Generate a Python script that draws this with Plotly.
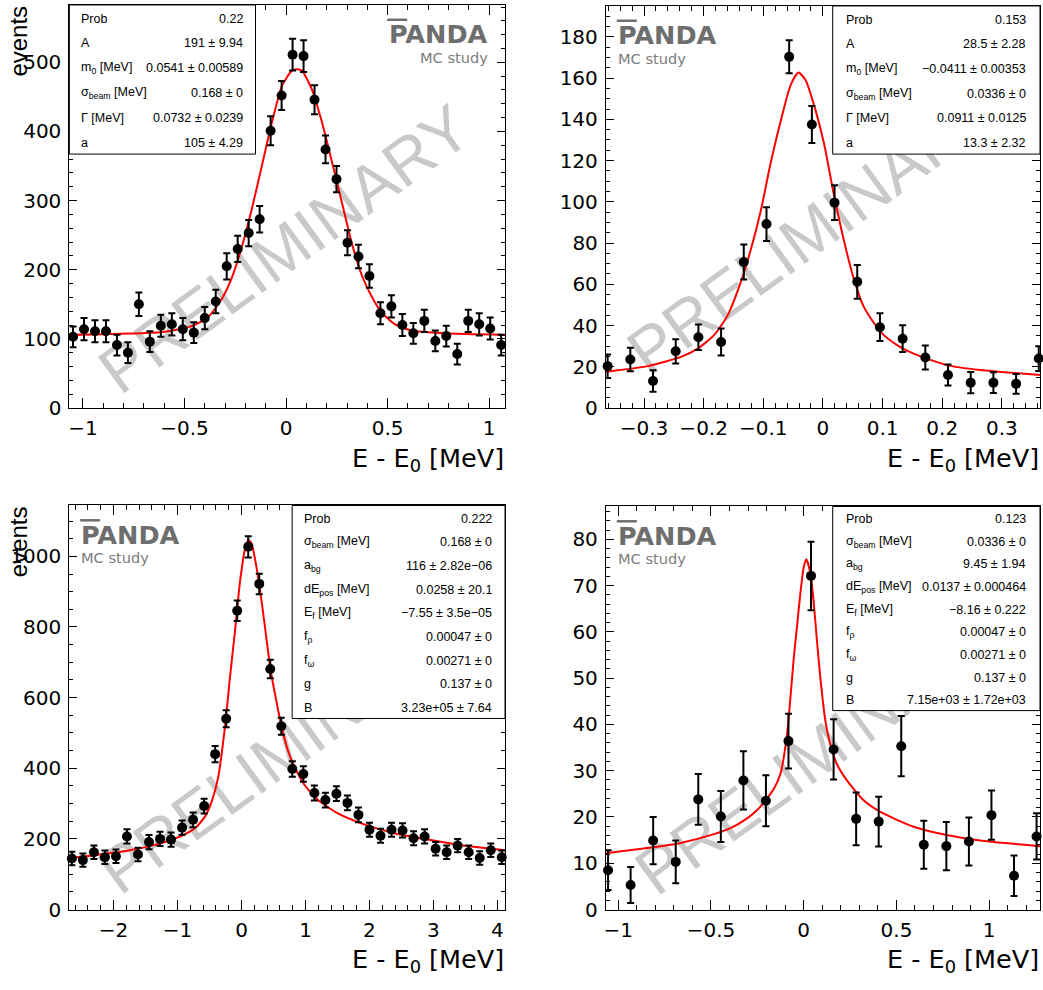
import numpy as np
import plotly.graph_objects as go

W, H = 1043, 990

# ---------------- data ----------------
# Panel 1 (top left)
p1_bin_first, p1_bin_width = -1.049, 0.05405
p1_counts = [103, 114, 111, 111, 91, 80, 150, 96, 119, 121, 114, 109, 130, 154, 205, 230, 253, 273, 401, 452,
             511, 509, 446, 374, 331, 239, 219, 191, 137, 147, 120, 108, 126, 97, 104, 78, 126, 121, 115, 91]
p1_err = [15, 16, 16, 16, 15, 15, 17, 15, 16, 16, 16, 15, 16, 17, 19, 19, 19, 19, 21, 21,
          23, 23, 21, 20, 19, 18, 17, 17, 16, 16, 16, 15, 16, 15, 15, 15, 16, 16, 16, 15]
p1_fit_x = [-1.062, -0.771, -0.608, -0.526, -0.444, -0.379, -0.314, -0.265, -0.216, -0.167, -0.118, -0.069,
            -0.020, 0.029, 0.054, 0.078, 0.127, 0.176, 0.225, 0.275, 0.324, 0.373, 0.422, 0.471, 0.536,
            0.618, 0.781, 1.078]
p1_fit_y = [105.7, 107.6, 110, 113.8, 121, 133, 159, 190, 235, 290, 352, 414, 466, 488, 490, 488, 461, 414,
            357, 297, 238, 192, 161, 138, 121, 112, 108, 105.7]
p1_stat_labels = ["Prob", "A", "m<sub>0</sub> [MeV]", "σ<sub>beam</sub> [MeV]", "Γ [MeV]", "a"]
p1_stat_values = ["0.22", "191 ± 9.94", "0.0541 ± 0.00589", "0.168 ± 0", "0.0732 ± 0.0239", "105 ± 4.29"]

# Panel 2 (top right)
p2_bin_first, p2_bin_width = -0.361, 0.03805
p2_counts = [20.3, 23.5, 13.1, 27.5, 34.3, 32.0, 70.8, 89.2, 170.3, 137.5, 99.6, 61.2, 39.2, 33.6, 24.5, 16.0,
             12.3, 12.3, 11.7, 24.0]
p2_err = [5.7, 5.7, 5.2, 5.9, 6.2, 6.5, 8.5, 8.2, 8.0, 9.0, 8.4, 8.2, 6.7, 6.5, 5.8, 5.1, 5.2, 5.0, 4.8, 6.0]
p2_fit_x = [-0.364, -0.294, -0.238, -0.210, -0.183, -0.160, -0.138, -0.121, -0.104, -0.088, -0.071, -0.054,
            -0.041, -0.029, -0.015, 0.002, 0.018, 0.035, 0.052, 0.069, 0.097, 0.125, 0.152, 0.208, 0.264, 0.365]
p2_fit_y = [17.6, 20.3, 24.8, 28.8, 35.2, 44.8, 60.8, 76.7, 95.9, 118.3, 139, 156.7, 162.7, 159, 147, 128, 104,
            81.5, 62.4, 48.8, 36.8, 30.4, 26.4, 20.8, 18.4, 16.0]
p2_stat_labels = ["Prob", "A", "m<sub>0</sub> [MeV]", "σ<sub>beam</sub> [MeV]", "Γ [MeV]", "a"]
p2_stat_values = ["0.153", "28.5 ± 2.28", "−0.0411 ± 0.00353", "0.0336 ± 0", "0.0911 ± 0.0125", "13.3 ± 2.32"]

# Panel 3 (bottom left)
p3_bin_first, p3_bin_width = -2.652, 0.1723
p3_counts = [144.5, 140, 162, 148, 151, 207, 156, 191, 200, 198, 232, 254, 293, 440, 540, 846, 1027, 922, 681,
             519, 398, 384, 330, 310, 328, 302, 268, 226, 209, 226, 224, 202, 207, 172, 162, 181, 162, 146,
             168, 148]
p3_err = [19, 19, 19, 19, 19, 20, 19, 20, 20, 20, 20, 21, 21, 23, 24, 29, 30, 29, 26, 24,
          22, 22, 21, 21, 21, 21, 21, 20, 20, 20, 20, 20, 20, 19, 19, 19, 19, 19, 19, 19]
p3_fit_x = [-2.694, -2.288, -1.768, -1.248, -0.936, -0.728, -0.572, -0.468, -0.364, -0.260, -0.182, -0.104,
            -0.026, 0.052, 0.104, 0.156, 0.208, 0.276, 0.364, 0.452, 0.546, 0.624, 0.728, 0.832, 0.988,
            1.196, 1.508, 1.872, 2.392, 2.912, 3.432, 4.119]
p3_fit_y = [146, 154, 167, 188, 209, 230, 263, 305, 375, 515, 655, 785, 925, 1018, 1046, 1037, 995, 922, 804,
            681, 589, 519, 449, 403, 352, 310, 272, 244, 216, 198, 182, 168]
p3_stat_labels = ["Prob", "σ<sub>beam</sub> [MeV]", "a<sub>bg</sub>", "dE<sub>pos</sub> [MeV]",
                  "E<sub>f</sub> [MeV]", "f<sub>ρ</sub>", "f<sub>ω</sub>", "g", "B"]
p3_stat_values = ["0.222", "0.168 ± 0", "116 ± 2.82e−06", "0.0258 ± 20.1", "−7.55 ± 3.5e−05",
                  "0.00047 ± 0", "0.00271 ± 0", "0.137 ± 0", "3.23e+05 ± 7.64"]

# Panel 4 (bottom right)
p4_bin_first, p4_bin_width = -1.055, 0.1216
p4_counts = [8.5, 5.3, 14.9, 10.3, 23.8, 20.1, 27.9, 23.5, 36.4, 72.1, 34.6, 19.6, 19.0, 35.3, 14.0, 13.7,
             14.7, 20.4, 7.3, 15.8]
p4_err = [4.3, 3.9, 5.1, 4.6, 5.5, 5.5, 6.3, 5.5, 5.9, 7.4, 6.5, 5.7, 5.4, 6.5, 5.2, 5.2, 5.2, 5.3, 4.4, 5.0]
p4_fit_x = [-1.067, -0.843, -0.664, -0.484, -0.395, -0.305, -0.251, -0.206, -0.161, -0.126, -0.090, -0.072,
            -0.054, -0.036, -0.018, 0.0, 0.014, 0.036, 0.054, 0.072, 0.090, 0.117, 0.143, 0.179, 0.233, 0.323,
            0.413, 0.592, 0.771, 0.951, 1.274]
p4_fit_y = [12.2, 13.3, 14.4, 16.3, 17.6, 19.7, 21.5, 23.6, 26.1, 29.3, 37.8, 45.7, 54.2, 61.3, 68.4, 74.0,
            75.7, 72.7, 66.3, 57.8, 49.9, 40.7, 35.7, 31.4, 27.9, 23.6, 21.1, 17.9, 16.1, 14.9, 13.7]
p4_stat_labels = p3_stat_labels
p4_stat_values = ["0.123", "0.0336 ± 0", "9.45 ± 1.94", "0.0137 ± 0.000464", "−8.16 ± 0.222",
                  "0.00047 ± 0", "0.00271 ± 0", "0.137 ± 0", "7.15e+03 ± 1.72e+03"]

x_title = "E - E<sub>0</sub> [MeV]"
y_title = "events"
logo_text = "<b>PANDA</b>"
logo_sub = "MC study"
watermark = "PRELIMINARY"

# ---------------- layout helpers ----------------
def fx(px):
    return px / W


def fy(py):
    return 1 - py / H


SANS = "Liberation Sans, Arial, Helvetica, sans-serif"
WIDE = "DejaVu Sans, Verdana, sans-serif"

panels = [
    dict(frame=(67.5, 5, 504, 413), xr=[-1.067, 1.078], yr=[0, 583], xd=0.5, xm=0.1, yd=100, ym=20,
         first=p1_bin_first, width=p1_bin_width, counts=p1_counts, err=p1_err, fx=p1_fit_x, fy=p1_fit_y,
         labels=p1_stat_labels, values=p1_stat_values, box=(67.5, 5, 254, 156), lab_x=77.3, val_x=243.3,
         logo_right=True, events=True),
    dict(frame=(605, 6, 1040, 413), xr=[-0.364, 0.364], yr=[0, 195], xd=0.1, xm=0.02, yd=20, ym=5,
         first=p2_bin_first, width=p2_bin_width, counts=p2_counts, err=p2_err, fx=p2_fit_x, fy=p2_fit_y,
         labels=p2_stat_labels, values=p2_stat_values, box=(832.3, 6, 1040, 156), lab_x=843.3, val_x=1028.3,
         logo_right=False, events=False),
    dict(frame=(67.3, 511.7, 504, 920.7), xr=[-2.694, 4.119], yr=[0, 1144], xd=1, xm=0.2, yd=200, ym=50,
         first=p3_bin_first, width=p3_bin_width, counts=p3_counts, err=p3_err, fx=p3_fit_x, fy=p3_fit_y,
         labels=p3_stat_labels, values=p3_stat_values, box=(290.7, 511.7, 504, 727.3), lab_x=300.7,
         val_x=492.7, logo_right=False, events=True),
    dict(frame=(605, 512.7, 1040, 920.7), xr=[-1.067, 1.274], yr=[0, 87.1], xd=0.5, xm=0.1, yd=10, ym=2,
         first=p4_bin_first, width=p4_bin_width, counts=p4_counts, err=p4_err, fx=p4_fit_x, fy=p4_fit_y,
         labels=p4_stat_labels, values=p4_stat_values, box=(832.3, 512.7, 1040, 719.3), lab_x=843.3,
         val_x=1028.3, logo_right=False, events=False),
]

fig = go.Figure()
annotations = []
shapes = []
layout_axes = {}

for i, p in enumerate(panels):
    n = i + 1
    xa = "x" if n == 1 else f"x{n}"
    ya = "y" if n == 1 else f"y{n}"
    L, T, R, B = p["frame"]

    xs = p["first"] + p["width"] * np.arange(len(p["counts"]))

    # watermark (behind data)
    cx, cy = L + 212, T + 242
    if n == 2:
        cx, cy = L + 204, T + 222
    shapes.append(dict(type="rect", xref="paper", yref="paper", x0=fx(cx - 1), x1=fx(cx + 1),
                       y0=fy(cy + 1), y1=fy(cy - 1), line=dict(width=0), layer="below",
                       label=dict(text=watermark, textangle=-36, textposition="middle center",
                                  font=dict(family=SANS, size=65, color="#c9c9c9"))))

    # fit curve
    fig.add_trace(go.Scatter(x=p["fx"], y=p["fy"], mode="lines", xaxis=xa, yaxis=ya,
                             line=dict(color="#ff0000", width=2, shape="spline", smoothing=0.6),
                             hoverinfo="skip", cliponaxis=True))
    # data points
    fig.add_trace(go.Scatter(x=xs, y=p["counts"], mode="markers", xaxis=xa, yaxis=ya,
                             marker=dict(color="black", size=10, symbol="circle"),
                             error_y=dict(type="data", array=p["err"], color="black", thickness=2, width=3.5),
                             cliponaxis=False))

    axcommon = dict(showgrid=False, zeroline=False, showline=True, linecolor="black", linewidth=1,
                    mirror="allticks", ticks="inside", tickcolor="black", tickwidth=1,
                    tickfont=dict(family=WIDE, size=20, color="black"), fixedrange=True)
    layout_axes["xaxis" if n == 1 else f"xaxis{n}"] = dict(
        axcommon, domain=[fx(L), fx(R)], range=p["xr"], anchor=ya, tick0=0, dtick=p["xd"], ticklen=10,
        minor=dict(dtick=p["xm"], tick0=0, ticks="inside", ticklen=5, tickcolor="black", tickwidth=1),
        ticklabelstandoff=2)
    layout_axes["yaxis" if n == 1 else f"yaxis{n}"] = dict(
        axcommon, domain=[fy(B), fy(T)], range=p["yr"], anchor=xa, tick0=0, dtick=p["yd"], ticklen=8,
        minor=dict(dtick=p["ym"], tick0=0, ticks="inside", ticklen=4, tickcolor="black", tickwidth=1),
        ticklabelstandoff=3)

    # stats box
    bx0, by0, bx1, by1 = p["box"]
    shapes.append(dict(type="rect", xref="paper", yref="paper", x0=fx(bx0), x1=fx(bx1), y0=fy(by1),
                       y1=fy(by0), line=dict(color="black", width=1), fillcolor="white", layer="above"))
    nrow = len(p["labels"])
    rh = (by1 - by0) / nrow
    for k, (lab, val) in enumerate(zip(p["labels"], p["values"])):
        yc = by0 + (k + 0.55) * rh
        annotations.append(dict(xref="paper", yref="paper", x=fx(p["lab_x"]), y=fy(yc), text=lab,
                                showarrow=False, xanchor="left", yanchor="middle",
                                font=dict(family=SANS, size=12.5, color="black")))
        annotations.append(dict(xref="paper", yref="paper", x=fx(p["val_x"]), y=fy(yc), text=val,
                                showarrow=False, xanchor="right", yanchor="middle",
                                font=dict(family=SANS, size=12.5, color="black")))

    # PANDA logo
    if p["logo_right"]:
        lx, anchor = R - 15.7, "right"
        ol0 = R - 118
    else:
        lx, anchor = L + 11, "left"
        ol0 = L + 11
    annotations.append(dict(xref="paper", yref="paper", x=fx(lx), y=fy(T + 29.7), text=logo_text,
                            showarrow=False, xanchor=anchor, yanchor="middle", borderpad=0,
                            font=dict(family=WIDE, size=25.5, color="#6e6e6e")))
    annotations.append(dict(xref="paper", yref="paper", x=fx(lx), y=fy(T + 53), text=logo_sub,
                            showarrow=False, xanchor=anchor, yanchor="middle", borderpad=0,
                            font=dict(family=WIDE, size=14.6, color="#7c7c7c")))
    shapes.append(dict(type="line", xref="paper", yref="paper", x0=fx(ol0), x1=fx(ol0 + 20),
                       y0=fy(T + 15), y1=fy(T + 15), line=dict(color="#6e6e6e", width=2.5), layer="above"))

    # axis titles
    annotations.append(dict(xref="paper", yref="paper", x=fx(R), y=fy(B + 34), text=x_title,
                            showarrow=False, xanchor="right", yanchor="top", borderpad=0,
                            font=dict(family=WIDE, size=25.5, color="black")))
    if p["events"]:
        annotations.append(dict(xref="paper", yref="paper", x=fx(16.7), y=fy(T - 0.5), text=y_title,
                                showarrow=False, xanchor="center", yanchor="top", textangle=-90,
                                borderpad=0, font=dict(family=SANS, size=24, color="black")))

fig.update_layout(width=W, height=H, margin=dict(l=0, r=0, t=0, b=0), showlegend=False,
                  paper_bgcolor="white", plot_bgcolor="rgba(0,0,0,0)",
                  annotations=annotations, shapes=shapes, **layout_axes)

fig.write_html("out.html", config={"displayModeBar": False},
               post_script="document.body.style.margin='0px';document.body.style.overflow='hidden';")
